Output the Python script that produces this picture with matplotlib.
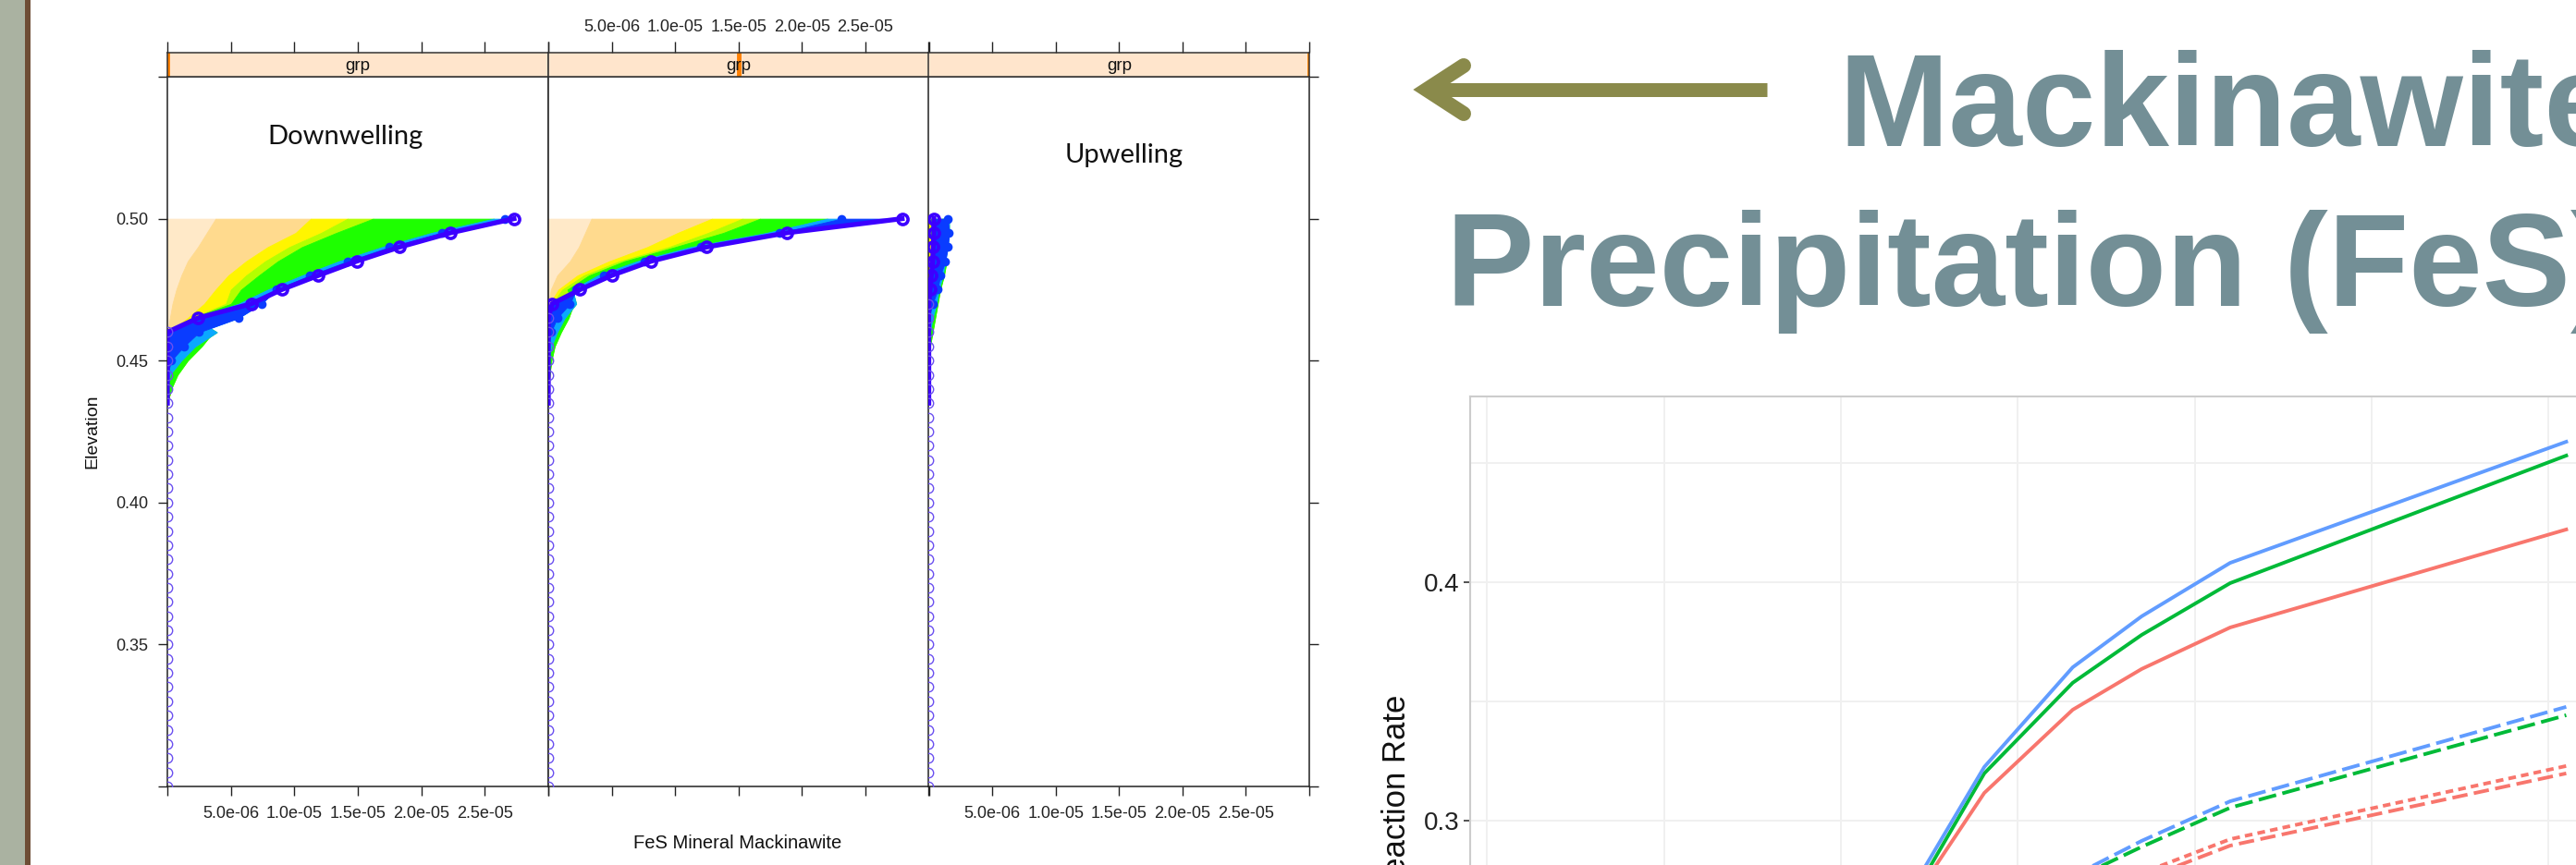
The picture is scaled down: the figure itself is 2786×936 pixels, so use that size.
import numpy as np
import matplotlib
matplotlib.use("Agg")
import matplotlib.pyplot as plt
from matplotlib.patches import Rectangle
from matplotlib.lines import Line2D

plt.rcParams["font.family"] = ["Liberation Sans", "DejaVu Sans"]
plt.rcParams["lines.scale_dashes"] = False

W, H, DPI = 2786, 936, 100

# ---------------- lattice panels: FeS mineral vs elevation ----------------
ELEV = [0.500, 0.495, 0.490, 0.485, 0.480, 0.475, 0.470,
        0.465, 0.460, 0.455, 0.450, 0.445, 0.440, 0.435]
LOWER_ELEV = [0.430, 0.425, 0.420, 0.415, 0.410, 0.405, 0.400, 0.395, 0.390,
              0.385, 0.380, 0.375, 0.370, 0.365, 0.360, 0.355, 0.350, 0.345,
              0.340, 0.335, 0.330, 0.325, 0.320, 0.315, 0.310, 0.305, 0.300]

# profile edges (units of 1e-6), early -> late; the last one is the final profile
DOWN_A = [
    [3.8, 3.1, 2.4, 1.6, 1.1, 0.7, 0.4, 0.2, 0, 0, 0, 0, 0, 0],
    [11.3, 10.1, 7.9, 6.2, 4.8, 3.8, 2.9, 1.6, 0.1, 0, 0, 0, 0, 0],
    [14.2, 12.1, 9.6, 7.7, 6.2, 5.0, 4.6, 1.9, 0.5, 0.4, 0.3, 0.3, 0.3, 0],
    [16.2, 13.3, 10.6, 8.7, 7.2, 5.8, 5.0, 2.0, 3.6, 2.7, 1.6, 0.8, 0.3, 0],
    [25.7, 20.8, 16.9, 13.5, 10.6, 7.9, 5.6, 2.1, 3.9, 2.2, 1.1, 0.2, 0, 0],
    [26.6, 21.6, 17.5, 14.2, 11.2, 8.6, 7.4, 5.6, 2.5, 1.3, 0.3, 0, 0, 0],
    [27.3, 22.3, 18.3, 14.9, 11.9, 9.0, 6.6, 2.4, 0, 0, 0, 0, 0, 0],
]
DOWN_B = [
    [3.4, 2.9, 2.4, 1.7, 0.7, 0.2, 0, 0, 0, 0, 0, 0, 0, 0],
    [12.9, 10.2, 7.8, 4.8, 2.3, 0.8, 0.1, 0, 0, 0, 0, 0, 0, 0],
    [15.3, 12.6, 9.5, 5.6, 2.8, 1.1, 0.3, 0.2, 0.2, 0.2, 0.2, 0.1, 0, 0],
    [16.7, 13.8, 10.0, 6.0, 3.2, 1.5, 2.0, 1.6, 1.0, 0.5, 0.25, 0.1, 0, 0],
    [22.0, 17.2, 11.2, 7.0, 3.9, 1.9, 2.2, 1.3, 0.7, 0.25, 0, 0, 0, 0],
    [23.1, 18.2, 12.0, 7.6, 4.4, 2.2, 1.7, 0.7, 0.2, 0, 0, 0, 0, 0],
    [27.9, 18.8, 12.5, 8.1, 5.0, 2.5, 0.3, 0, 0, 0, 0, 0, 0, 0],
]
UP = [
    [0, 0, 0, 0, 0, 0, 0, 0, 0, 0, 0, 0, 0, 0],
    [0, 0, 0, 0, 0, 0, 0, 0, 0, 0, 0, 0, 0, 0],
    [0.2, 0.2, 0.2, 0.2, 0.2, 0.2, 0.2, 0.2, 0.2, 0.1, 0, 0, 0, 0],
    [0.2, 0.2, 0.2, 1.4, 1.2, 0.9, 0.7, 0.5, 0.3, 0.1, 0, 0, 0, 0],
    [1.6, 1.6, 1.4, 1.3, 1.1, 0.8, 0.6, 0.3, 0.1, 0, 0, 0, 0, 0],
    [1.5, 1.6, 1.5, 1.3, 0.9, 0.7, 0.3, 0, 0, 0, 0, 0, 0, 0],
    [0.4, 0.4, 0.35, 0.3, 0.2, 0.1, 0, 0, 0, 0, 0, 0, 0, 0],
]
PANELS = [DOWN_A, DOWN_B, UP]
PANEL_NOTES = ["Downwelling", "", "Upwelling"]
STRIP_LEVEL = [0.0, 0.5, 1.0]
BAND_COLORS = ["#ffe9c8", "#ffda8e", "#fff500", "#b4ff00",
               "#1eff00", "#0aa8ff", "#0a3cff"]
FINAL_COLOR = "#3c00ff"

XTICKS = [0, 5e-6, 1e-5, 1.5e-5, 2e-5, 2.5e-5, 3e-5]
XTICK_LABELS = ["", "5.0e-06", "1.0e-05", "1.5e-05", "2.0e-05", "2.5e-05", ""]
YTICKS = [0.30, 0.35, 0.40, 0.45, 0.50, 0.55]
YTICK_LABELS = ["", "0.35", "0.40", "0.45", "0.50", ""]

# ---------------- ggplot panel: reaction rate ----------------
RX = [2.31, 2.81, 3.31, 3.70, 4.20, 6.10]
RED_SOLID = [0.256, 0.3116, 0.3465, 0.3636, 0.3810, 0.4221]
GREEN_SOLID = [0.256, 0.3198, 0.3578, 0.3779, 0.3996, 0.4531]
BLUE_SOLID = [0.260, 0.3225, 0.3643, 0.3857, 0.4081, 0.4589]
RED_DASHED = [0.233, 0.248, 0.2630, 0.2752, 0.2895, 0.3198]
RED_DOTTED = [0.235, 0.250, 0.2663, 0.2780, 0.2922, 0.3229]
GREEN_DASHED = [0.228, 0.253, 0.2752, 0.2890, 0.3054, 0.3442]
BLUE_DASHED = [0.230, 0.255, 0.2767, 0.2915, 0.3081, 0.3477]


def fig_rect(x0, y0, x1, y1):
    return [x0 / W, 1 - y1 / H, (x1 - x0) / W, (y1 - y0) / H]


fig = plt.figure(figsize=(W / DPI, H / DPI), dpi=DPI)
fig.patch.set_facecolor("white")

panel_x = [181, 593, 1004.5, 1416]
strip_top, panel_top, panel_bottom = 57, 83, 851

for k, profiles in enumerate(PANELS):
    ax = fig.add_axes(fig_rect(panel_x[k], panel_top, panel_x[k + 1], panel_bottom))
    ax.set_xlim(0, 3e-5)
    ax.set_ylim(0.30, 0.55)
    elev = np.array(ELEV)
    curves = [np.zeros(len(ELEV))] + [np.array(p) * 1e-6 for p in profiles]
    for i, col in enumerate(BAND_COLORS):
        ax.fill_betweenx(elev, curves[i], curves[i + 1], facecolor=col,
                         edgecolor=col, lw=0.6, zorder=1 + i * 0.01)
    # scalloped outer edge of the late blue profile
    late = curves[-2]
    ax.plot(late[late > 0], elev[late > 0], ls="none", marker="o", ms=7,
            mfc=BAND_COLORS[-1], mec="none", zorder=2)
    final = curves[-1]
    ax.plot(final, elev, color=FINAL_COLOR, lw=3.8, zorder=3)
    on = final > 0
    ax.plot(final[on], elev[on], ls="none", marker="o", ms=8,
            mfc="none", mec=FINAL_COLOR, mew=2.6, zorder=4)
    zero_rows = list(elev[~on]) + LOWER_ELEV
    ax.plot(np.zeros(len(zero_rows)), zero_rows, ls="none", marker="o", ms=7.5,
            mfc="none", mec="#6b50f0", mew=1.0, zorder=4)

    for sp in ax.spines.values():
        sp.set_linewidth(1.1)
        sp.set_color("#222222")
    ax.set_xticks(XTICKS)
    ax.tick_params(axis="both", direction="out", length=7, width=1,
                   labelsize=13, pad=8, colors="#222222")
    if k == 1:
        ax.set_xticklabels([])
    else:
        ax.set_xticklabels(XTICK_LABELS)
    ax.set_yticks(YTICKS)
    if k == 0:
        ax.set_yticklabels(YTICK_LABELS)
    elif k == 2:
        ax.yaxis.tick_right()
        ax.set_yticklabels([])
    else:
        ax.tick_params(axis="y", left=False, labelleft=False)

    # strip with factor level marker
    sax = fig.add_axes(fig_rect(panel_x[k], strip_top, panel_x[k + 1], panel_top))
    sax.set_facecolor("#ffe5cc")
    sax.set_xlim(0, 3e-5)
    sax.set_ylim(0, 1)
    sax.axvline(STRIP_LEVEL[k] * 3e-5, color="#ff7f00", lw=3.5)
    sax.text(0.5, 0.45, "grp", transform=sax.transAxes, ha="center",
             va="center", fontsize=13.5, color="#111111")
    for sp in sax.spines.values():
        sp.set_linewidth(1.1)
        sp.set_color("#333333")
    sax.xaxis.tick_top()
    sax.set_xticks(XTICKS)
    sax.set_xticklabels(XTICK_LABELS if k == 1 else [])
    sax.tick_params(axis="x", direction="out", length=9, width=1,
                    labelsize=13, pad=5, colors="#222222")
    sax.set_yticks([])

# ---------------- ggplot-style reaction rate chart ----------------
rax = fig.add_axes(fig_rect(1590, 429, 2800, 1100))
rax.set_xlim(-0.0967, 6.2284)
rax.set_ylim(0.2178, 0.4779)
for gx in range(7):
    rax.axvline(gx, color="#f0f0f0", lw=1.4, zorder=0)
for gy in [0.30, 0.35, 0.40, 0.45]:
    rax.axhline(gy, color="#f0f0f0", lw=1.4, zorder=0)
rax.plot(RX, RED_SOLID, color="#F8766D", lw=2.8)
rax.plot(RX, GREEN_SOLID, color="#00BA38", lw=2.8)
rax.plot(RX, BLUE_SOLID, color="#619CFF", lw=2.8)
rax.plot(RX, RED_DASHED, color="#F8766D", lw=2.8, ls=(0, (12, 5)))
rax.plot(RX, RED_DOTTED, color="#F8766D", lw=2.8, ls=(0, (6, 4)))
rax.plot(RX, GREEN_DASHED, color="#00BA38", lw=2.8, ls=(0, (14, 5)))
rax.plot(RX, BLUE_DASHED, color="#619CFF", lw=2.8, ls=(0, (14, 5)))
rax.set_yticks([0.3, 0.4])
rax.set_yticklabels(["0.3", "0.4"])
rax.set_xticks([])
rax.tick_params(axis="y", direction="out", length=5, width=1.1,
                labelsize=20, pad=3, colors="#222222")
for name, sp in rax.spines.items():
    sp.set_color("#cccccc")
    sp.set_linewidth(1.5)
    if name in ("right", "bottom"):
        sp.set_visible(False)

# ---------------- overlay: poster decorations and labels ----------------
ov = fig.add_axes([0, 0, 1, 1])
ov.set_xlim(0, W)
ov.set_ylim(H, 0)
ov.axis("off")
ov.add_patch(Rectangle((0, 0), 27, H, facecolor="#aab2a1", edgecolor="none"))
ov.add_patch(Rectangle((27, 0), 6, H, facecolor="#6e4d35", edgecolor="none"))

ov.text(100, 467, "Elevation", rotation=90, ha="center", va="center",
        fontsize=14, color="#111111")
ov.text(798, 913, "FeS Mineral Mackinawite", ha="center", va="center",
        fontsize=14.5, color="#111111")
note_xy = [(373, 148), None, (1216, 168)]
for note, xy in zip(PANEL_NOTES, note_xy):
    if note:
        ov.text(xy[0], xy[1], note, ha="center", va="center",
                fontsize=21, family=["Lato", "DejaVu Sans"], color="#111111")

ov.text(1511, 862, "Reaction Rate", rotation=90, ha="center", va="center",
        fontsize=25, color="#111111")

olive = "#8a8a4b"
ov.add_line(Line2D([1550, 1911], [96.5, 96.5], color=olive, lw=15 * 0.72,
                   solid_capstyle="butt"))
ov.add_line(Line2D([1583, 1543, 1583], [71, 97, 123], color=olive,
                   lw=16 * 0.72, solid_joinstyle="miter",
                   solid_capstyle="round"))

title_color = "#738f96"
ov.text(1988, 158, "Mackinawite", ha="left", va="baseline", fontsize=103,
        fontweight="bold", color=title_color)
ov.text(1564, 331, "Precipitation (FeS)", ha="left", va="baseline",
        fontsize=103, fontweight="bold", color=title_color)

fig.savefig("out.png", dpi=DPI)
